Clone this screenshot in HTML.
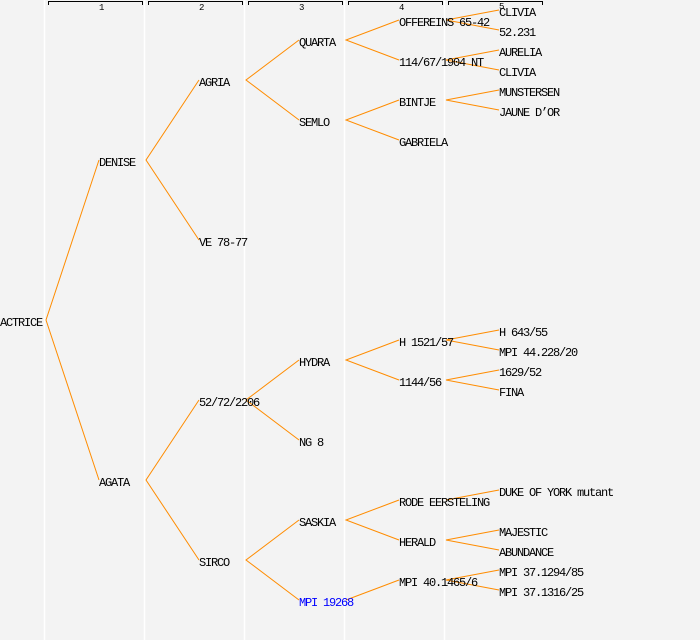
<!DOCTYPE html>
<html><head><meta charset="utf-8"><style>
html,body{margin:0;padding:0;background:#f3f3f3;}
svg{display:block}
text{font-family:"Liberation Mono",monospace;font-size:12px;letter-spacing:-1.2px;fill:#000}
.h{font-size:9px;letter-spacing:0}
</style></head><body>
<svg width="700" height="640" xmlns="http://www.w3.org/2000/svg">
<rect width="700" height="640" fill="#f3f3f3"/>
<g stroke="#ffffff" stroke-width="1.5">
<line x1="44.5" y1="0" x2="44.5" y2="640"/><line x1="144.5" y1="0" x2="144.5" y2="640"/>
<line x1="244.5" y1="0" x2="244.5" y2="640"/><line x1="344.5" y1="0" x2="344.5" y2="640"/>
<line x1="444.5" y1="0" x2="444.5" y2="640"/>
</g>
<g stroke="#000" stroke-width="1" fill="none">
<path d="M48.5 5V1.5H142.5V5"/><path d="M148.5 5V1.5H242.5V5"/><path d="M248.5 5V1.5H342.5V5"/>
<path d="M348.5 5V1.5H442.5V5"/><path d="M448.5 5V1.5H542.5V5"/>
</g>
<g><text class="h" x="99" y="10">1</text><text class="h" x="199" y="10">2</text><text class="h" x="299" y="10">3</text><text class="h" x="399" y="10">4</text><text class="h" x="499" y="9">5</text></g>
<g stroke="#ff8c00" stroke-width="1" fill="none">
<path d="M99 160L46 320L99 480"/>
<path d="M199 80L146 160L199 240"/>
<path d="M299 40L246 80L299 120"/>
<path d="M399 20L346 40L399 60"/>
<path d="M499 10L446 20L499 30"/>
<path d="M499 50L446 60L499 70"/>
<path d="M399 100L346 120L399 140"/>
<path d="M499 90L446 100L499 110"/>
<path d="M199 400L146 480L199 560"/>
<path d="M299 360L246 400L299 440"/>
<path d="M399 340L346 360L399 380"/>
<path d="M499 330L446 340L499 350"/>
<path d="M499 370L446 380L499 390"/>
<path d="M299 520L246 560L299 600"/>
<path d="M399 500L346 520L399 540"/>
<path d="M499 490L446 500"/>
<path d="M499 530L446 540L499 550"/>
<path d="M399 580L346 600"/>
<path d="M499 570L446 580L499 590"/>
</g>
<g>
<text x="0" y="326">ACTRICE</text>
<text x="99" y="166">DENISE</text>
<text x="99" y="486">AGATA</text>
<text x="199" y="86">AGRIA</text>
<text x="199" y="246">VE 78-77</text>
<text x="199" y="406">52/72/2206</text>
<text x="199" y="566">SIRCO</text>
<text x="299" y="46">QUARTA</text>
<text x="299" y="126">SEMLO</text>
<text x="299" y="366">HYDRA</text>
<text x="299" y="446">NG 8</text>
<text x="299" y="526">SASKIA</text>
<text x="299" y="606" style="fill:#0000ff">MPI 19268</text>
<text x="399" y="26">OFFEREINS 65-42</text>
<text x="399" y="66">114/67/1904 NT</text>
<text x="399" y="106">BINTJE</text>
<text x="399" y="146">GABRIELA</text>
<text x="399" y="346">H 1521/57</text>
<text x="399" y="386">1144/56</text>
<text x="399" y="506">RODE EERSTELING</text>
<text x="399" y="546">HERALD</text>
<text x="399" y="586">MPI 40.1465/6</text>
<text x="499" y="16">CLIVIA</text>
<text x="499" y="36">52.231</text>
<text x="499" y="56">AURELIA</text>
<text x="499" y="76">CLIVIA</text>
<text x="499" y="96">MUNSTERSEN</text>
<text x="499" y="116">JAUNE D’OR</text>
<text x="499" y="336">H 643/55</text>
<text x="499" y="356">MPI 44.228/20</text>
<text x="499" y="376">1629/52</text>
<text x="499" y="396">FINA</text>
<text x="499" y="496">DUKE OF YORK mutant</text>
<text x="499" y="536">MAJESTIC</text>
<text x="499" y="556">ABUNDANCE</text>
<text x="499" y="576">MPI 37.1294/85</text>
<text x="499" y="596">MPI 37.1316/25</text>
</g>
</svg>
</body></html>
